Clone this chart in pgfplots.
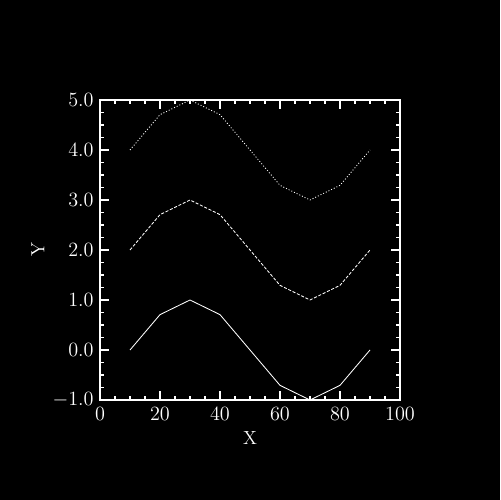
\documentclass[border=0pt]{standalone}
\usepackage{pgfplots}
\pgfplotsset{compat=1.18}
\begin{document}
\begin{tikzpicture}[x=1cm,y=1cm]
\fill[black] (0,0) rectangle (12.5,12.5);
\useasboundingbox (0,0) rectangle (12.5,12.5);
\begin{axis}[
  at={(2.5cm,2.5cm)}, anchor=south west,
  scale only axis, width=7.5cm, height=7.5cm,
  xmin=0, xmax=100, ymin=-1, ymax=5,
  xtick={0,20,...,100}, ytick={-1,0,...,5},
  minor x tick num=3, minor y tick num=3,
  tick align=inside, xtick pos=both, ytick pos=both,
  major tick length=0.225cm, minor tick length=0.11cm,
  axis line style={white, line width=1.4pt},
  every tick/.style={white, line width=1.2pt},
  minor tick style={white, line width=0.8pt},
  tick label style={white, font=\fontsize{13.5}{16}\selectfont},
  yticklabel style={xshift=-1pt, /pgf/number format/.cd, fixed, fixed zerofill, precision=1},
  xticklabel style={yshift=-2pt},
  xlabel={X}, ylabel={Y},
  label style={white, font=\fontsize{13.5}{16}\selectfont},
  xlabel style={at={(axis description cs:0.5,-0.127)}, anchor=center},
  ylabel style={at={(axis description cs:-0.207,0.5)}, anchor=center},
  clip=false,
]
\addplot[white, line width=0.6pt] coordinates {(10,0) (20,0.707) (30,1) (40,0.707) (50,0) (60,-0.707) (70,-1) (80,-0.707) (90,0)};
\addplot[white, line width=0.6pt, dash pattern=on 2.2pt off 1.2pt] coordinates {(10,2) (20,2.707) (30,3) (40,2.707) (50,2) (60,1.293) (70,1) (80,1.293) (90,2)};
\addplot[white, line width=0.6pt, dash pattern=on 0.7pt off 1.4pt] coordinates {(10,4) (20,4.707) (30,5) (40,4.707) (50,4) (60,3.293) (70,3) (80,3.293) (90,4)};
\end{axis}
\end{tikzpicture}
\end{document}
